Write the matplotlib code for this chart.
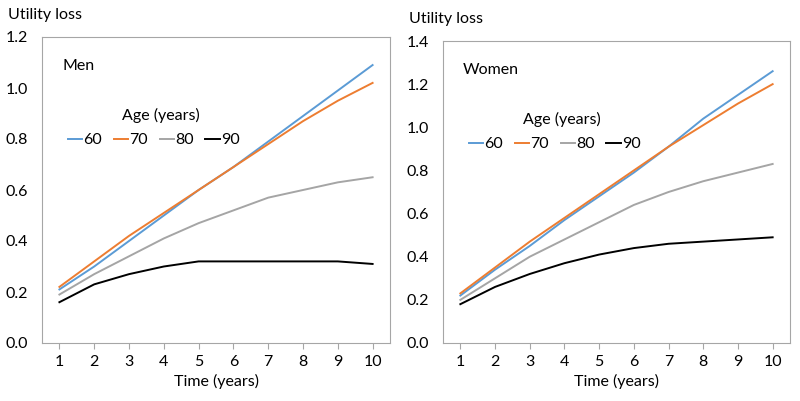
import numpy as np
import matplotlib.pyplot as plt

plt.rcParams['font.family'] = ['Lato', 'DejaVu Sans']

years = [1, 2, 3, 4, 5, 6, 7, 8, 9, 10]
ages = ['60', '70', '80', '90']
colors = ['#5B9BD5', '#ED7D31', '#A5A5A5', '#000000']

men_60 = [0.21, 0.30, 0.40, 0.50, 0.60, 0.69, 0.79, 0.89, 0.99, 1.09]
men_70 = [0.22, 0.32, 0.42, 0.51, 0.60, 0.69, 0.78, 0.87, 0.95, 1.02]
men_80 = [0.19, 0.27, 0.34, 0.41, 0.47, 0.52, 0.57, 0.60, 0.63, 0.65]
men_90 = [0.16, 0.23, 0.27, 0.30, 0.32, 0.32, 0.32, 0.32, 0.32, 0.31]

women_60 = [0.22, 0.34, 0.45, 0.57, 0.68, 0.79, 0.91, 1.04, 1.15, 1.26]
women_70 = [0.23, 0.35, 0.47, 0.58, 0.69, 0.80, 0.91, 1.01, 1.11, 1.20]
women_80 = [0.20, 0.30, 0.40, 0.48, 0.56, 0.64, 0.70, 0.75, 0.79, 0.83]
women_90 = [0.18, 0.26, 0.32, 0.37, 0.41, 0.44, 0.46, 0.47, 0.48, 0.49]

W, H = 800, 401
fig = plt.figure(figsize=(8, 4.01), dpi=100)

# name, series, y max, axes rect in pixels (left, top, right, bottom)
panels = [
    ('Men', [men_60, men_70, men_80, men_90], 1.2, (42, 37, 390, 343)),
    ('Women', [women_60, women_70, women_80, women_90], 1.4, (443, 41, 790, 343)),
]

fs = 11.5
frame_col = '#A6A6A6'
for label, series, ymax, (l, t, r, b) in panels:
    ax = fig.add_axes([l / W, 1 - b / H, (r - l) / W, (b - t) / H])
    lines = []
    for vals, age, c in zip(series, ages, colors):
        lines += ax.plot(years, vals, color=c, lw=1.4, label=age)
    ax.set_xlim(0.5, 10.5)
    ax.set_ylim(0, ymax)
    ax.set_xticks(years)
    yt = np.arange(0, ymax + 0.01, 0.2)
    ax.set_yticks(yt)
    ax.set_yticklabels(['%.1f' % v for v in yt])
    for s in ax.spines.values():
        s.set_color(frame_col)
    ax.tick_params(axis='x', direction='out', length=4, color=frame_col, labelsize=fs, pad=5)
    ax.tick_params(axis='y', length=0, labelsize=fs, pad=10)
    ax.set_xlabel('Time (years)', fontsize=fs, labelpad=3)
    # panel label, y-axis title, legend title
    fig.text((l + 20) / W, 1 - (t + 29) / H, label, fontsize=fs, va='center')
    fig.text((l - 34) / W, 1 - (t - 22) / H, 'Utility loss', fontsize=fs, va='center')
    fig.text((l + 80) / W, 1 - (t + 78) / H, 'Age (years)', fontsize=fs, va='center')
    ax.legend(handles=lines, ncol=4, loc='center left',
              bbox_to_anchor=(26 / (r - l), 1 - 103 / (b - t)),
              frameon=False, fontsize=fs, handlelength=0.9,
              handletextpad=0.05, columnspacing=0.75, borderaxespad=0, borderpad=0)

fig.savefig('out.png', dpi=100)
